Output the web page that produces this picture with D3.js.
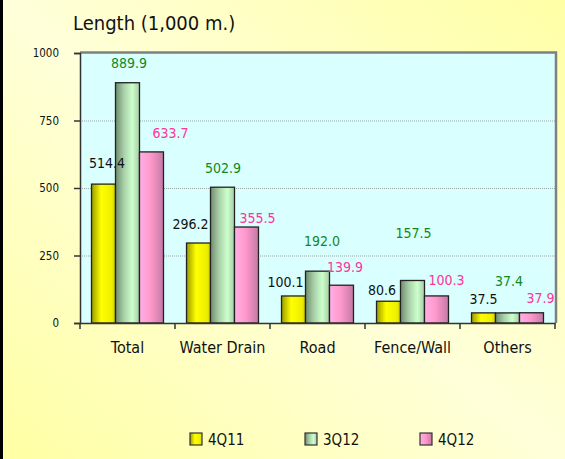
<!DOCTYPE html>
<html>
<head>
<meta charset="utf-8">
<script src="https://cdn.jsdelivr.net/npm/d3@7"></script>
<style>
  html, body { margin: 0; padding: 0; }
  body { width: 565px; height: 459px; overflow: hidden; }
  svg text { font-family: "DejaVu Sans Condensed", "DejaVu Sans", sans-serif; }
</style>
</head>
<body>
<script>
var w = 565;
var h = 459;

// chart data
var categories = ['Total', 'Water Drain', 'Road', 'Fence/Wall', 'Others'];
var seriesNames = ['4Q11', '3Q12', '4Q12'];
var values4Q11 = [514.4, 296.2, 100.1, 80.6, 37.5];
var values3Q12 = [889.9, 502.9, 192.0, 157.5, 37.4];
var values4Q12 = [633.7, 355.5, 139.9, 100.3, 37.9];
var yTicks = [0, 250, 500, 750, 1000];

// hand-placed label nudges from the original (dx, lift above bar top)
var labelDx = [[3.5, -8, -8, -6.5, 0], [1.5, 0.5, 4.5, 1, 1.5], [19, 11, 3.5, 10, 9]];
var labelLift = [[21, 19, 14, 11, 14], [20, 19, 30, 47, 32], [19, 9, 18, 16, 15]];

var seriesValues = [values4Q11, values3Q12, values4Q12];
var labelColors = ['#111111', '#11881a', '#ff3399'];
var gradStops = [
  [['0%', '#9a9a00'], ['40%', '#ffff00'], ['85%', '#eeee00'], ['100%', '#c8c800']],
  [['0%', '#6f8c6f'], ['35%', '#a8d0a8'], ['70%', '#ccffcc'], ['100%', '#a6cca6']],
  [['0%', '#ffb0e6'], ['45%', '#ff99cc'], ['100%', '#c47aa6']]
];

var plot = { left: 80, right: 555, top: 53, bottom: 323 };

var svg = d3.select('body')
  .append('svg')
  .attr('width', w)
  .attr('height', h);

var defs = svg.append('defs');

var bg = defs.append('linearGradient')
  .attr('id', 'bg')
  .attr('x1', '0%').attr('y1', '100%')
  .attr('x2', '100%').attr('y2', '0%');
bg.append('stop').attr('offset', '0%').attr('stop-color', '#ffffa4');
bg.append('stop').attr('offset', '50%').attr('stop-color', '#ffffda');
bg.append('stop').attr('offset', '100%').attr('stop-color', '#ffffa6');

gradStops.forEach(function(stops, i) {
  var g = defs.append('linearGradient')
    .attr('id', 'bar' + i)
    .attr('x1', '0%').attr('y1', '0%')
    .attr('x2', '100%').attr('y2', '0%');
  stops.forEach(function(s) {
    g.append('stop').attr('offset', s[0]).attr('stop-color', s[1]);
  });
});

svg.append('rect')
  .attr('width', w).attr('height', h)
  .attr('fill', 'url(#bg)');

svg.append('line')
  .attr('x1', 1.5).attr('x2', 1.5)
  .attr('y1', 0).attr('y2', h)
  .attr('stroke', '#000').attr('stroke-width', 3);

// title
svg.append('text')
  .attr('x', 73).attr('y', 30)
  .attr('font-size', 20)
  .attr('fill', '#111')
  .text('Length (1,000 m.)');

// plot area
svg.append('rect')
  .attr('x', plot.left).attr('y', plot.top)
  .attr('width', plot.right - plot.left)
  .attr('height', plot.bottom - plot.top)
  .attr('fill', '#d9ffff');

var x0 = d3.scaleBand()
  .domain(categories)
  .range([plot.left, plot.right]);

var x1 = d3.scaleBand()
  .domain(seriesNames)
  .range([0, x0.bandwidth()])
  .paddingOuter(0.48);

var y = d3.scaleLinear()
  .domain([0, 1000])
  .range([plot.bottom, plot.top]);

// gridlines
svg.append('g')
  .selectAll('line')
  .data(yTicks.filter(function(t) { return t > 0 && t < 1000; }))
  .enter()
  .append('line')
  .attr('x1', plot.left).attr('x2', plot.right)
  .attr('y1', function(d) { return y(d) + 0.5; })
  .attr('y2', function(d) { return y(d) + 0.5; })
  .attr('stroke', '#9aa8a8')
  .attr('stroke-dasharray', '1,1');

// plot border (top / right)
svg.append('path')
  .attr('d', 'M' + plot.left + ',' + (plot.top - 0.5) + 'H' + (plot.right + 1) + 'V' + plot.bottom)
  .attr('fill', 'none')
  .attr('stroke', '#808080')
  .attr('stroke-width', 2.5);

// bars
var groups = svg.append('g')
  .selectAll('g')
  .data(categories)
  .enter()
  .append('g')
  .attr('transform', function(d) { return 'translate(' + x0(d) + ',0)'; });

groups.selectAll('rect')
  .data(function(d, ci) {
    return seriesNames.map(function(s, si) { return { s: s, si: si, ci: ci, v: seriesValues[si][ci] }; });
  })
  .enter()
  .append('rect')
  .attr('x', function(d) { return x1(d.s); })
  .attr('y', function(d) { return y(d.v); })
  .attr('width', x1.bandwidth())
  .attr('height', function(d) { return y(0) - y(d.v); })
  .attr('fill', function(d) { return 'url(#bar' + d.si + ')'; })
  .attr('stroke', '#222')
  .attr('stroke-width', 1.3);

groups.selectAll('text')
  .data(function(d, ci) {
    return seriesNames.map(function(s, si) { return { s: s, si: si, ci: ci, v: seriesValues[si][ci] }; });
  })
  .enter()
  .append('text')
  .attr('x', function(d) { return x1(d.s) + x1.bandwidth() / 2 + labelDx[d.si][d.ci]; })
  .attr('y', function(d) { return y(d.v) - labelLift[d.si][d.ci] + 5; })
  .attr('text-anchor', 'middle')
  .attr('font-size', 14)
  .attr('fill', function(d) { return labelColors[d.si]; })
  .text(function(d) { return d.v.toFixed(1); });

// y axis
var yAxis = svg.append('g')
  .attr('transform', 'translate(' + plot.left + ',0)')
  .call(d3.axisLeft(y).tickValues(yTicks).tickSize(6).tickPadding(15).tickFormat(d3.format('d')));
yAxis.select('.domain').attr('stroke', '#333').attr('stroke-width', 1.5);
yAxis.selectAll('.tick line').attr('stroke', '#333').attr('stroke-width', 1.5);
yAxis.selectAll('text')
  .attr('font-size', 11.5)
  .attr('fill', '#111')
  .style('font-family', '"DejaVu Sans Condensed", "DejaVu Sans", sans-serif');

// x axis
var xAxis = svg.append('g')
  .attr('transform', 'translate(0,' + plot.bottom + ')')
  .call(d3.axisBottom(x0).tickSize(0).tickPadding(19).tickSizeOuter(0));
xAxis.select('.domain').attr('stroke', '#333').attr('stroke-width', 1.5);
xAxis.selectAll('text')
  .attr('font-size', 16)
  .attr('fill', '#111')
  .style('font-family', '"DejaVu Sans Condensed", "DejaVu Sans", sans-serif');

xAxis.selectAll('.sep')
  .data(categories.map(function(c) { return x0(c); }).concat([plot.right]))
  .enter()
  .append('line')
  .attr('class', 'sep')
  .attr('x1', function(d) { return d; }).attr('x2', function(d) { return d; })
  .attr('y1', 0).attr('y2', 6)
  .attr('stroke', '#333').attr('stroke-width', 1.5);

// legend
var legend = svg.append('g')
  .selectAll('g')
  .data(seriesNames)
  .enter()
  .append('g')
  .attr('transform', function(d, i) { return 'translate(' + (190 + i * 115) + ',433)'; });

legend.append('rect')
  .attr('width', 12).attr('height', 12)
  .attr('fill', function(d, i) { return 'url(#bar' + i + ')'; })
  .attr('stroke', '#333')
  .attr('stroke-width', 1.2);

legend.append('text')
  .attr('x', 18).attr('y', 12)
  .attr('font-size', 15)
  .attr('fill', '#111')
  .text(function(d) { return d; });
</script>
</body>
</html>
